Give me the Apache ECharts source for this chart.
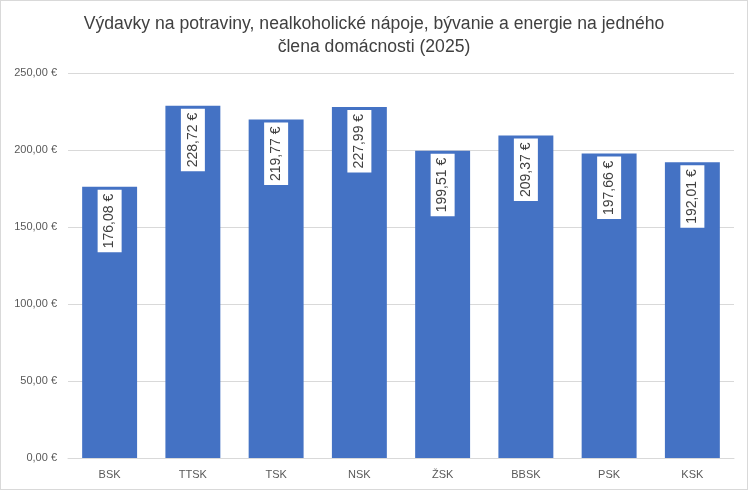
<!DOCTYPE html>
<html>
<head>
<meta charset="utf-8">
<script src="https://cdn.jsdelivr.net/npm/echarts@6/dist/echarts.min.js"></script>
<style>
  body { margin: 0; background: #fff; }
  #chart { width: 746px; height: 488px; border: 1px solid #d9d9d9; }
</style>
</head>
<body>
<div id="chart"></div>
<script>
var regions = ['BSK', 'TTSK', 'TSK', 'NSK', 'ŽSK', 'BBSK', 'PSK', 'KSK'];
var spending = [176.08, 228.72, 219.77, 227.99, 199.51, 209.37, 197.66, 192.01];

function euro(v) {
  return v.toFixed(2).replace('.', ',') + ' €';
}

var chart = echarts.init(document.getElementById('chart'));

var option = {
  title: {
    text: 'Výdavky na potraviny, nealkoholické nápoje, bývanie a energie na jedného\nčlena domácnosti (2025)',
    left: 'center',
    top: 7,
    textStyle: {
      color: '#404040',
      fontSize: 17.6,
      fontWeight: 'normal',
      fontFamily: 'Liberation Sans',
      lineHeight: 23
    }
  },
  grid: {
    left: 67,
    right: 13,
    top: 72,
    bottom: 31
  },
  xAxis: {
    type: 'category',
    data: regions,
    axisLine: { lineStyle: { color: '#d9d9d9' } },
    axisTick: { show: false },
    axisLabel: {
      color: '#595959',
      fontSize: 11,
      fontFamily: 'Liberation Sans',
      margin: 11
    }
  },
  yAxis: {
    type: 'value',
    min: 0,
    max: 250,
    interval: 50,
    axisLine: { show: false },
    axisTick: { show: false },
    splitLine: { lineStyle: { color: '#d9d9d9' } },
    axisLabel: {
      color: '#595959',
      fontSize: 11,
      fontFamily: 'Liberation Sans',
      margin: 11,
      formatter: euro
    }
  },
  series: [
    {
      type: 'bar',
      data: spending,
      barCategoryGap: '34%',
      itemStyle: { color: '#4472c4' },
      label: {
        show: true,
        position: 'insideTop',
        rotate: 90,
        align: 'right',
        verticalAlign: 'middle',
        distance: 3,
        color: '#404040',
        fontSize: 14,
        fontFamily: 'Liberation Sans',
        backgroundColor: '#fff',
        padding: [5, 4, 5, 4],
        formatter: function (p) { return euro(p.value); }
      }
    }
  ]
};

chart.setOption(option);
</script>
</body>
</html>
